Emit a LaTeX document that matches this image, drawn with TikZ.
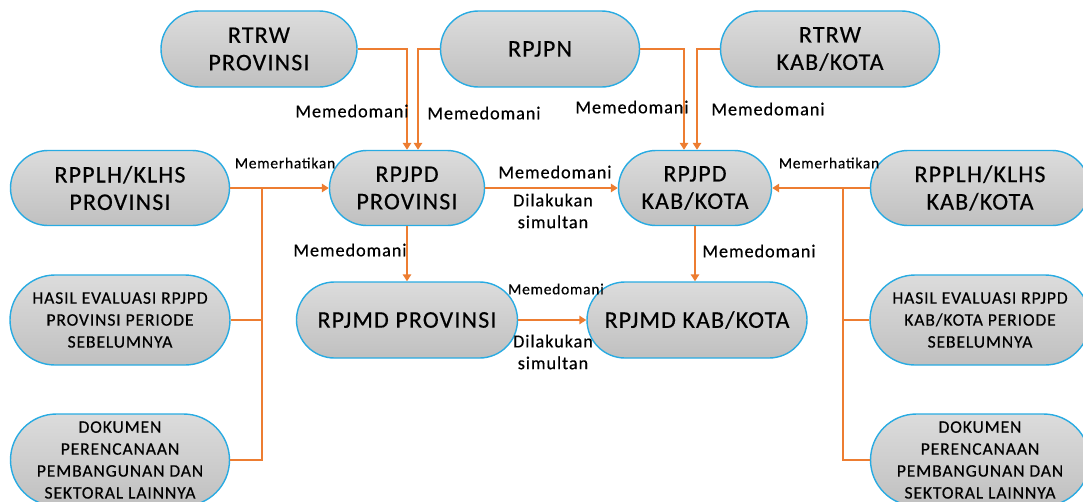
\documentclass[tikz,border=0pt]{standalone}
\usepackage{fontspec}
\setmainfont{Carlito}[LetterSpace=5, FakeBold=0.4]
\usetikzlibrary{shapes.misc,arrows.meta}

\definecolor{linkorange}{RGB}{237,125,49}
\definecolor{edgeblue}{RGB}{41,171,226}
\definecolor{boxtop}{RGB}{220,220,220}
\definecolor{boxbottom}{RGB}{192,192,192}

\tikzset{
    doc/.style={rounded rectangle, draw=edgeblue, line width=1pt,
        top color=boxtop, bottom color=boxbottom, inner sep=0pt,
        align=center, font=\fontsize{17}{19.5}\selectfont},
    smalldoc/.style={doc, font=\fontsize{12.5}{15.6}\selectfont},
    wire/.style={draw=linkorange, line width=2pt},
    link/.style={wire, -{Triangle[length=5pt,width=6pt]}},
    lbl/.style={align=center, inner sep=0pt, font=\fontsize{13}{15.5}\selectfont},
    smalllbl/.style={inner sep=0pt, font=\fontsize{11}{13}\selectfont}
}

\begin{document}
\begin{tikzpicture}[x=0.025cm, y=-0.025cm]

    \clip (0,0) rectangle (1083,501);

    %% Top row

    % Spatial plans and national plan
    \node[doc, minimum width=196*0.025cm, minimum height=76*0.025cm] (rtrwprov) at (259,49) {RTRW\\PROVINSI};
    \node[doc, minimum width=199*0.025cm, minimum height=76*0.025cm] (rpjpn) at (540,49) {RPJPN};
    \node[doc, minimum width=219*0.025cm, minimum height=76*0.025cm] (rtrwkab) at (830,49) {RTRW\\KAB/KOTA};

    %% Middle row

    % Long-term plans
    \node[doc, minimum width=219*0.025cm, minimum height=75*0.025cm] (klhsprov) at (120,188) {RPPLH/KLHS\\PROVINSI};
    \node[doc, minimum width=155*0.025cm, minimum height=75*0.025cm] (rpjpdprov) at (407,188) {RPJPD\\PROVINSI};
    \node[doc, minimum width=153*0.025cm, minimum height=75*0.025cm] (rpjpdkab) at (695,188) {RPJPD\\KAB/KOTA};
    \node[doc, minimum width=219*0.025cm, minimum height=75*0.025cm] (klhskab) at (980,188) {RPPLH/KLHS\\KAB/KOTA};

    % Medium-term plans
    \node[smalldoc, minimum width=220*0.025cm, minimum height=90*0.025cm] (hasilprov) at (120,320) {HASIL EVALUASI RPJPD\\PROVINSI PERIODE\\SEBELUMNYA};
    \node[doc, minimum width=221*0.025cm, minimum height=76*0.025cm] (rpjmdprov) at (407,320) {RPJMD PROVINSI};
    \node[doc, minimum width=220*0.025cm, minimum height=76*0.025cm] (rpjmdkab) at (697,320) {RPJMD KAB/KOTA};
    \node[smalldoc, minimum width=220*0.025cm, minimum height=90*0.025cm] (hasilkab) at (980,320) {HASIL EVALUASI RPJPD\\KAB/KOTA PERIODE\\SEBELUMNYA};

    %% Bottom row

    % Other documents
    \node[smalldoc, minimum width=219*0.025cm, minimum height=92*0.025cm] (dokprov) at (120,460) {DOKUMEN\\PERENCANAAN\\PEMBANGUNAN DAN\\SEKTORAL LAINNYA};
    \node[smalldoc, minimum width=219*0.025cm, minimum height=92*0.025cm] (dokkab) at (980,460) {DOKUMEN\\PERENCANAAN\\PEMBANGUNAN DAN\\SEKTORAL LAINNYA};

    %% Connectors

    % From the top row
    \draw[link] (rtrwprov.east) -| (rpjpdprov.north);
    \draw[link] (rpjpn.west) -| ([xshift=11*0.025cm]rpjpdprov.north);
    \draw[link] (rpjpn.east) -| ([xshift=-11*0.025cm]rpjpdkab.north);
    \draw[link] (rtrwkab.west) -| ([xshift=2*0.025cm]rpjpdkab.north);

    % Left bus
    \coordinate (busl) at (262,188);
    \draw[link] (klhsprov.east) -- (rpjpdprov.west);
    \draw[wire] (hasilprov.east) -- (hasilprov.east -| busl);
    \draw[wire] (dokprov.east) -| (busl);

    % Right bus
    \coordinate (busr) at (843,188);
    \draw[link] (klhskab.west) -- (rpjpdkab.east);
    \draw[wire] (hasilkab.west) -- (hasilkab.west -| busr);
    \draw[wire] (dokkab.west) -| (busr);

    % Between the levels
    \draw[link] (rpjpdprov.east) -- (rpjpdkab.west);
    \draw[link] (rpjmdprov.east) -- (rpjmdkab.west);
    \draw[link] (rpjpdprov.south) -- (rpjpdprov.south |- rpjmdprov.north);
    \draw[link] (rpjpdkab.south) -- (rpjpdkab.south |- rpjmdkab.north);

    %% Labels

    \node[lbl] (lrtrwprov) at (352,111) {Memedomani};
    \node[lbl] (lrpjpnprov) at (484,113) {Memedomani};
    \node[lbl] (lrpjpnkab) at (632,107) {Memedomani};
    \node[lbl] (lrtrwkab) at (768,109) {Memedomani};
    \node[smalllbl] (lklhsprov) at (285,163) {Memerhatikan};
    \node[smalllbl] (lklhskab) at (829,163) {Memerhatikan};
    \node[lbl] (lrpjpd) at (555,172) {Memedomani};
    \node[lbl] (lrpjpdsim) at (553,211) {Dilakukan\\simultan};
    \node[lbl] (lprovdown) at (350,250) {Memedomani};
    \node[lbl] (lkabdown) at (759,251) {Memedomani};
    \node[smalllbl] (lrpjmd) at (556,289) {Memedomani};
    \node[lbl] (lrpjmdsim) at (553,352) {Dilakukan\\simultan};

\end{tikzpicture}
\end{document}
